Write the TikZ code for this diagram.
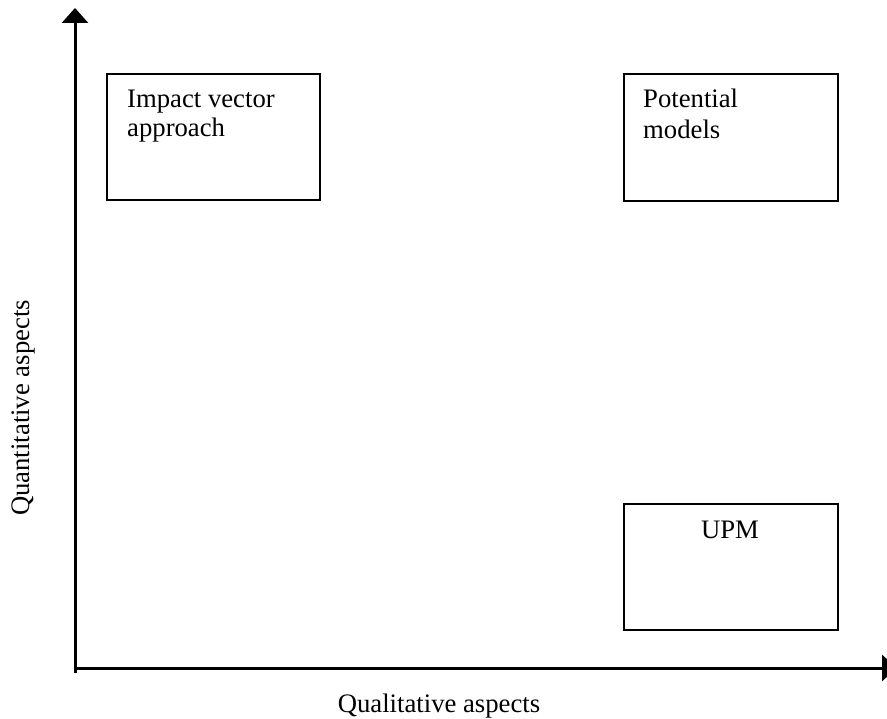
\documentclass[tikz,border=0pt]{standalone}
\usepackage{fontspec}
\setmainfont{Liberation Serif}
\usetikzlibrary{arrows.meta}
\begin{document}
\begin{tikzpicture}[x=1pt,y=-1pt,
  axis/.style={line width=3pt,-{Triangle[length=15pt,width=26pt]}},
  box/.style={draw,line width=1.8pt,rectangle,inner sep=0pt},
  txt/.style={font=\fontsize{26.7}{30}\selectfont,inner sep=0pt,align=left}]
\useasboundingbox (0,0) rectangle (887,719);
\clip (0,0) rectangle (887,719);
% axes
\coordinate (ybot) at (75,673);
\coordinate (ytop) at (75,8);
\coordinate (xleft) at (74,668);
\coordinate (xright) at (897,668);
\draw[axis] (ybot) -- (ytop);
\draw[axis] (xleft) -- (xright);
% boxes
\node[box,minimum width=213pt,minimum height=126pt,anchor=north west] (b1) at (106,73) {};
\node[box,minimum width=214pt,minimum height=127pt,anchor=north west] (b2) at (623,73) {};
\node[box,minimum width=214pt,minimum height=126pt,anchor=north west] (b3) at (623,503) {};
% texts
\node[txt,anchor=base west] (t1) at (127,108) {Impact vector};
\node[txt,anchor=base west] (t1b) at (127,137) {approach};
\node[txt,anchor=base west] (t2) at (643,108) {Potential};
\node[txt,anchor=base west] (t2b) at (643,139) {models};
\node[txt,anchor=base] (t3) at (730,538) {UPM};
\node[txt,anchor=base] (xl) at (439,712) {Qualitative aspects};
\node[txt,anchor=base,rotate=90] (yl) at (30,408) {Quantitative aspects};
\end{tikzpicture}
\end{document}
